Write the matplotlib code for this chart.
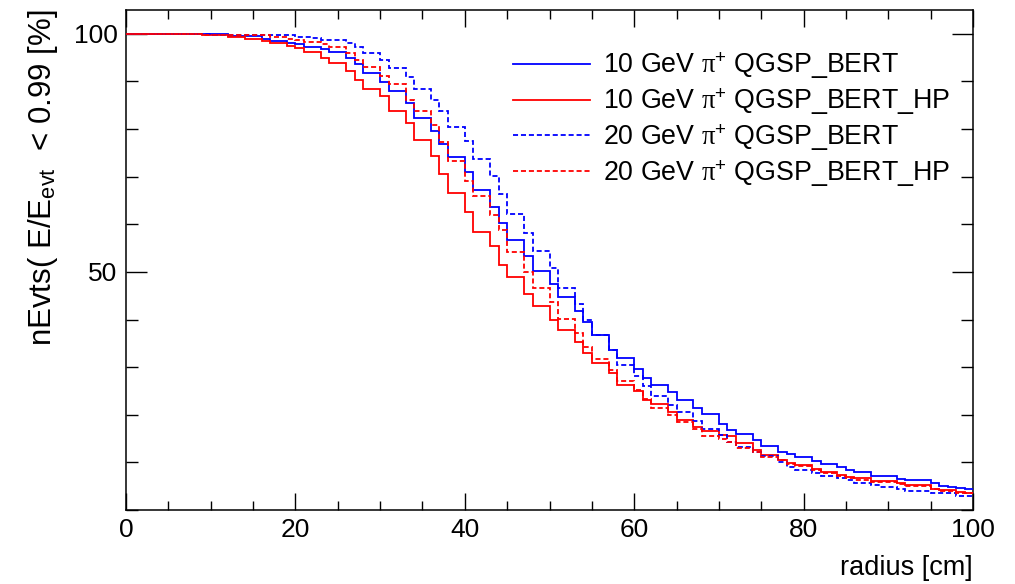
import numpy as np
import matplotlib
matplotlib.use("Agg")
import matplotlib.pyplot as plt
from matplotlib.ticker import MultipleLocator
from matplotlib.lines import Line2D

plt.rcParams['font.family'] = ['Liberation Sans', 'DejaVu Sans']
plt.rcParams['mathtext.fontset'] = 'custom'
plt.rcParams['mathtext.rm'] = 'Liberation Serif'
plt.rcParams['mathtext.it'] = 'Liberation Serif'
plt.rcParams['mathtext.sf'] = 'Liberation Sans'

# radius bin edges [cm]
bin_edges = list(range(0, 101))

# nEvts(E/E_evt < 0.99) [%] per 1 cm radius bin
pi10_qgsp_bert = [
    100, 100, 100, 100, 100, 100, 100, 100, 100, 100,
    100, 100, 99.6, 99.6, 99.6, 99.6, 98.9, 98.5, 98.5, 98.1,
    97.8, 97.3, 97.3, 96.8, 96.1, 96.1, 95.0, 93.7, 91.7, 91.7,
    89.8, 87.9, 87.9, 85.4, 82.4, 82.4, 79.6, 76.8, 74.1, 74.1,
    71.0, 67.1, 67.1, 63.6, 60.3, 56.6, 56.6, 53.3, 50.2, 50.2,
    47.5, 44.7, 44.7, 41.8, 39.5, 36.7, 36.7, 33.7, 32.0, 32.0,
    29.7, 27.8, 26.2, 26.2, 24.8, 23.1, 23.1, 21.5, 20.2, 20.2,
    18.0, 16.8, 15.9, 15.9, 14.7, 13.4, 13.4, 12.2, 11.7, 11.2,
    11.2, 10.3, 9.6, 9.6, 9.1, 8.4, 8.0, 8.0, 7.1, 7.1,
    7.1, 6.6, 6.3, 6.3, 6.3, 5.7, 5.0, 4.9, 4.6, 4.5,
]
pi10_qgsp_bert_hp = [
    100, 100, 100, 100, 100, 100, 100, 100, 100, 99.8,
    99.8, 99.8, 99.4, 99.4, 98.9, 98.9, 98.5, 98.0, 98.0, 97.5,
    97.1, 96.1, 96.1, 95.0, 93.9, 93.9, 92.2, 90.3, 88.5, 88.5,
    86.9, 83.8, 83.8, 81.2, 77.6, 77.6, 74.3, 70.6, 66.6, 66.6,
    62.6, 58.4, 58.4, 55.4, 51.4, 48.9, 48.9, 45.4, 42.9, 42.9,
    39.9, 37.7, 37.7, 35.2, 32.9, 30.8, 30.8, 28.8, 26.2, 26.2,
    25.0, 23.2, 22.2, 22.2, 20.6, 19.0, 19.0, 17.5, 16.6, 16.6,
    15.8, 15.5, 14.0, 14.0, 12.6, 11.5, 11.5, 10.5, 9.9, 9.4,
    9.4, 8.7, 8.0, 8.0, 7.3, 7.0, 6.8, 6.8, 6.1, 6.0,
    6.0, 5.7, 5.3, 5.2, 5.2, 4.5, 4.1, 4.1, 3.8, 3.6,
]
pi20_qgsp_bert = [
    100, 100, 100, 100, 100, 100, 100, 100, 100, 100,
    99.8, 99.8, 99.8, 99.8, 99.8, 99.8, 99.8, 99.7, 99.7, 99.7,
    99.4, 99.4, 99.1, 98.8, 98.8, 98.8, 98.0, 97.3, 95.9, 95.9,
    94.5, 92.9, 92.9, 90.9, 88.5, 88.5, 86.0, 83.8, 80.5, 80.5,
    77.5, 73.8, 73.8, 70.2, 66.4, 62.1, 62.1, 58.2, 54.3, 54.3,
    50.9, 46.6, 46.6, 43.2, 39.8, 36.7, 36.7, 33.6, 30.4, 30.4,
    28.1, 26.0, 24.0, 24.0, 22.0, 20.6, 20.6, 18.7, 17.0, 17.0,
    15.7, 14.3, 13.3, 13.3, 12.2, 11.3, 11.3, 10.1, 9.1, 8.4,
    8.4, 7.8, 7.1, 7.1, 6.8, 6.2, 5.7, 5.7, 5.3, 4.9,
    4.9, 4.5, 4.0, 4.0, 4.0, 3.5, 3.5, 3.5, 2.9, 2.9,
]
pi20_qgsp_bert_hp = [
    100, 100, 100, 100, 100, 100, 100, 100, 100, 99.8,
    99.8, 99.8, 99.8, 99.8, 99.8, 99.8, 99.8, 99.4, 99.4, 98.9,
    98.7, 98.3, 98.3, 97.8, 97.3, 97.3, 95.9, 94.5, 93.0, 93.0,
    91.1, 89.4, 89.4, 86.2, 83.8, 83.8, 80.9, 77.3, 73.3, 73.3,
    69.1, 65.9, 65.9, 61.9, 58.7, 54.2, 54.2, 50.0, 46.7, 46.7,
    43.7, 40.1, 40.1, 37.1, 34.2, 31.7, 31.7, 29.4, 27.1, 27.1,
    25.2, 23.4, 21.5, 21.5, 19.9, 18.4, 18.4, 17.0, 15.5, 15.5,
    15.0, 14.2, 13.0, 13.0, 12.2, 11.2, 11.2, 10.4, 9.7, 9.2,
    9.2, 8.5, 7.8, 7.8, 7.2, 6.7, 6.4, 6.4, 5.8, 5.8,
    5.8, 5.4, 5.0, 5.0, 5.0, 4.4, 4.0, 4.0, 3.6, 3.6,
]

series_labels = [
    r"10 GeV $\mathrm{\pi}^{\mathsf{+}}$ QGSP_BERT",
    r"10 GeV $\mathrm{\pi}^{\mathsf{+}}$ QGSP_BERT_HP",
    r"20 GeV $\mathrm{\pi}^{\mathsf{+}}$ QGSP_BERT",
    r"20 GeV $\mathrm{\pi}^{\mathsf{+}}$ QGSP_BERT_HP",
]
x_ticks = [0, 20, 40, 60, 80, 100]
y_ticks = [50, 100]

fig = plt.figure(figsize=(10.15, 5.84), dpi=100)
ax = fig.add_axes([126 / 1015, 1 - 510 / 584, 847 / 1015, 500 / 584])

dash = (0, (2.8, 1.6))
styles = [
    dict(color='#0000ff', linestyle='-'),
    dict(color='#ff0000', linestyle='-'),
    dict(color='#0000ff', linestyle=dash),
    dict(color='#ff0000', linestyle=dash),
]
data = [pi10_qgsp_bert, pi10_qgsp_bert_hp, pi20_qgsp_bert, pi20_qgsp_bert_hp]
for vals, lab, st in zip(data, series_labels, styles):
    ax.stairs(vals, bin_edges, baseline=None, linewidth=1.3, label=lab,
              zorder=3, **st)

ax.set_xlim(0, 100)
ax.set_ylim(0, 105)
ax.set_xticks(x_ticks)
ax.set_yticks(y_ticks)
ax.xaxis.set_minor_locator(MultipleLocator(5))
ax.yaxis.set_minor_locator(MultipleLocator(10))
ax.tick_params(axis='both', which='both', direction='in', top=True, right=True,
               labelsize=19, width=1.0, color='black')
ax.tick_params(axis='x', which='major', length=12.2, pad=6)
ax.tick_params(axis='x', which='minor', length=6.5)
ax.tick_params(axis='y', which='major', length=15, pad=6)
ax.tick_params(axis='y', which='minor', length=8.6)
for sp in ax.spines.values():
    sp.set_linewidth(1.1)

ax.set_xlabel('radius [cm]', fontsize=19.5, loc='right', labelpad=9)
ax.set_ylabel(r'nEvts( E/E$_{\mathsf{evt}}$  < 0.99 [%]', fontsize=22.5,
              loc='top', labelpad=10)

leg_handles = [Line2D([], [], lw=1.3, **st) for st in styles]
ax.legend(leg_handles, series_labels, loc='upper left', bbox_to_anchor=(0.4445, 0.94),
          frameon=False, fontsize=19.3, handlelength=2.88, handletextpad=0.47,
          labelspacing=0.21, borderaxespad=0)

fig.savefig('out.png', dpi=100)
